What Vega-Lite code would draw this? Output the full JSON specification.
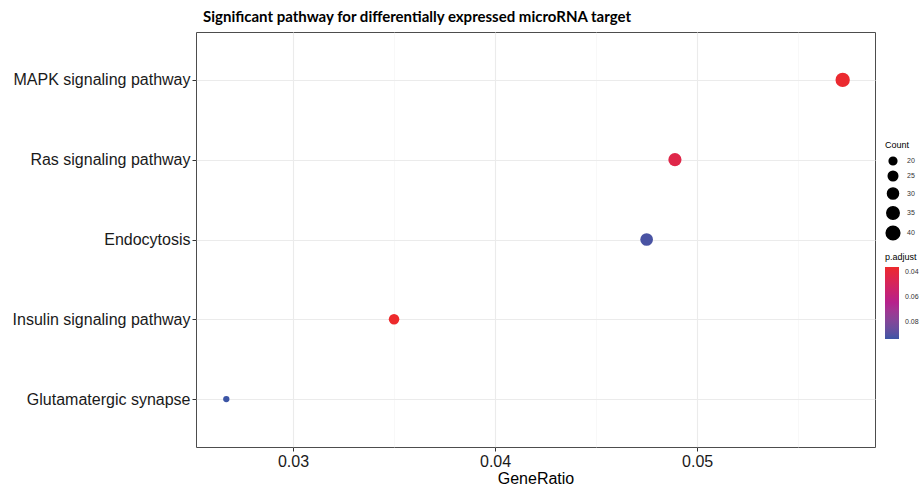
{
  "$schema": "https://vega.github.io/schema/vega-lite/v6.json",
  "autosize": "none",
  "width": 679,
  "height": 415,
  "padding": {"left": 196, "top": 32, "right": 47, "bottom": 38},
  "background": "white",
  "title": {
    "text": "Significant pathway for differentially expressed microRNA target",
    "anchor": "start",
    "frame": "group",
    "dx": 7,
    "offset": 7,
    "font": "Lato",
    "fontSize": 15,
    "fontWeight": "bold",
    "color": "#000000"
  },
  "config": {
    "view": {"stroke": "#4d4d4d", "strokeWidth": 1},
    "font": "Liberation Sans"
  },
  "data": {
    "values": [
      {"Description": "MAPK signaling pathway", "GeneRatio": 0.0572, "Count": 43, "padj": 0.037},
      {"Description": "Ras signaling pathway", "GeneRatio": 0.0489, "Count": 38, "padj": 0.044},
      {"Description": "Endocytosis", "GeneRatio": 0.0475, "Count": 36, "padj": 0.092},
      {"Description": "Insulin signaling pathway", "GeneRatio": 0.0350, "Count": 28, "padj": 0.036},
      {"Description": "Glutamatergic synapse", "GeneRatio": 0.0267, "Count": 17, "padj": 0.094}
    ]
  },
  "mark": {"type": "circle", "opacity": 1},
  "encoding": {
    "x": {
      "field": "GeneRatio",
      "type": "quantitative",
      "scale": {"domain": [0.0252, 0.0588], "nice": false, "zero": false},
      "axis": {
        "title": "GeneRatio",
        "titleFont": "Liberation Sans",
        "titleFontSize": 16,
        "titleFontWeight": "normal",
        "titleColor": "#000000",
        "titlePadding": 1,
        "values": [0.025, 0.03, 0.035, 0.04, 0.045, 0.05, 0.055],
        "labelExpr": "abs(datum.value*100 - round(datum.value*100)) < 0.01 ? format(datum.value, '.2f') : ''",
        "labelFontSize": 16,
        "labelColor": "#1a1a1a",
        "labelPadding": 2,
        "domain": false,
        "ticks": true,
        "tickSize": 4,
        "tickColor": "#333333",
        "tickOpacity": {"condition": {"test": "abs(datum.value*100 - round(datum.value*100)) < 0.01", "value": 1}, "value": 0},
        "grid": true,
        "gridColor": {"condition": {"test": "abs(datum.value*100 - round(datum.value*100)) < 0.01", "value": "#ebebeb"}, "value": "#f4f4f4"},
        "gridWidth": {"condition": {"test": "abs(datum.value*100 - round(datum.value*100)) < 0.01", "value": 1.1}, "value": 0.6}
      }
    },
    "y": {
      "field": "Description",
      "type": "nominal",
      "sort": ["MAPK signaling pathway", "Ras signaling pathway", "Endocytosis", "Insulin signaling pathway", "Glutamatergic synapse"],
      "scale": {"type": "point", "padding": 0.6},
      "axis": {
        "title": null,
        "labelFontSize": 16,
        "labelColor": "#1a1a1a",
        "labelPadding": 2,
        "labelLimit": 300,
        "domain": false,
        "tickSize": 4,
        "tickColor": "#333333",
        "grid": true,
        "gridColor": "#ebebeb",
        "gridWidth": 1.1
      }
    },
    "size": {
      "field": "Count",
      "type": "quantitative",
      "scale": {"domain": [17, 43], "range": [40, 205], "zero": false},
      "legend": {
        "title": "Count",
        "orient": "none",
        "legendX": 689,
        "legendY": 109,
        "values": [20, 25, 30, 35, 40],
        "titleFontSize": 9,
        "titleFontWeight": "normal",
        "titleColor": "#000000",
        "titlePadding": 6,
        "labelFontSize": 7,
        "labelColor": "#333333",
        "symbolFillColor": "#000000",
        "symbolStrokeColor": "#000000",
        "symbolType": "circle",
        "symbolOpacity": 1,
        "rowPadding": 0,
        "labelOffset": 6
      }
    },
    "color": {
      "field": "padj",
      "type": "quantitative",
      "scale": {"domain": [0.094, 0.065, 0.036], "range": ["#3C55A5", "#B5228D", "#ED2A2C"], "interpolate": "lab", "zero": false, "nice": false},
      "legend": {
        "title": "p.adjust",
        "orient": "none",
        "legendX": 689,
        "legendY": 221,
        "direction": "vertical",
        "values": [0.04, 0.06, 0.08],
        "format": ".2f",
        "gradientLength": 72,
        "gradientThickness": 14,
        "gradientStrokeWidth": 0,
        "titleFontSize": 9,
        "titleFontWeight": "normal",
        "titleColor": "#000000",
        "titlePadding": 5,
        "labelFontSize": 7,
        "labelColor": "#333333",
        "labelOffset": 6
      }
    }
  }
}
